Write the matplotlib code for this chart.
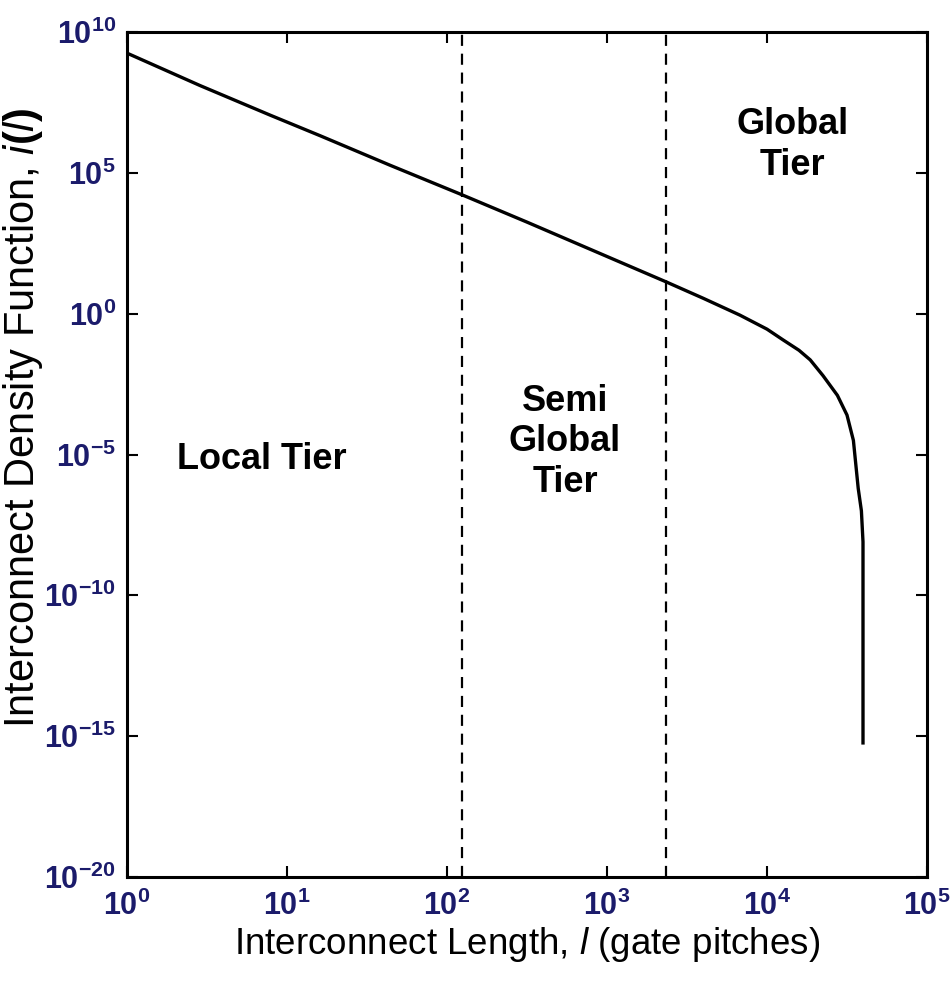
import matplotlib.pyplot as plt
import matplotlib.ticker as mticker
import numpy as np

# curve, as powers of ten
log_length = [0, 0.456, 0.894, 1.206, 1.644, 2.094, 2.5, 3.0, 3.369, 3.6, 3.83,
              4.0, 4.1, 4.2, 4.27, 4.35, 4.44, 4.5, 4.54, 4.57, 4.59, 4.6, 4.6]
log_density = [9.25, 8.1, 7.05, 6.32, 5.27, 4.22, 3.25, 2.03, 1.13, 0.55, -0.05,
               -0.55, -0.93, -1.3, -1.64, -2.2, -2.9, -3.6, -4.5, -6.2, -7.0, -8.1, -15.24]

tier_bounds = [124, 2340]
tier_labels = ['Local Tier', 'Semi\nGlobal\nTier', 'Global\nTier']
tier_label_x = [7.0, 546, 14500]
tier_label_y = [10**-5.19, 10**-4.55, 10**5.99]

length = 10.0 ** np.array(log_length)
density = 10.0 ** np.array(log_density)

plt.rcParams['font.family'] = ['Liberation Sans', 'DejaVu Sans']
plt.rcParams['mathtext.fontset'] = 'custom'
plt.rcParams['mathtext.rm'] = 'Liberation Sans:bold'
plt.rcParams['mathtext.bf'] = 'Liberation Sans:bold'
plt.rcParams['mathtext.it'] = 'Liberation Sans:italic'

fig = plt.figure(figsize=(9.53, 9.81), dpi=100)
ax = fig.add_axes([127 / 953, 104 / 981, 800 / 953, 845 / 981])

ax.plot(length, density, color='black', lw=2.4)
for b in tier_bounds:
    ax.axvline(b, color='black', lw=1.6, ls=(0, (5, 3.5)))

for s, x, y in zip(tier_labels, tier_label_x, tier_label_y):
    ax.text(x, y, s, ha='center', va='center', fontsize=26, fontweight='bold',
            linespacing=1.2)

ax.set_xscale('log')
ax.set_yscale('log')
ax.set_xlim(1, 1e5)
ax.set_ylim(1e-20, 1e10)

ax.xaxis.set_major_locator(mticker.FixedLocator([10.0 ** k for k in range(0, 6)]))
ax.yaxis.set_major_locator(mticker.FixedLocator([10.0 ** k for k in range(-20, 11, 5)]))
ax.xaxis.set_minor_locator(mticker.NullLocator())
ax.yaxis.set_minor_locator(mticker.NullLocator())

fmt = mticker.FuncFormatter(lambda v, p: r'$\mathbf{10^{%d}}$' % round(np.log10(v)))
ax.xaxis.set_major_formatter(fmt)
ax.yaxis.set_major_formatter(fmt)

ax.tick_params(which='major', direction='in', length=8, width=1.5,
               top=True, right=True, labelsize=22, labelcolor='#1b1b6b')
ax.tick_params(axis='x', pad=10)
ax.tick_params(axis='y', pad=8)

for sp in ax.spines.values():
    sp.set_linewidth(2.2)

ax.set_xlabel('Interconnect Length, $\\mathit{l}$ (gate pitches)', fontsize=26.5, labelpad=2)
ax.set_ylabel('Interconnect Density Function, $\\mathit{i(l)}$', fontsize=30)
ax.yaxis.set_label_coords(-0.103, 0.543)

fig.savefig('out.png', dpi=100)
